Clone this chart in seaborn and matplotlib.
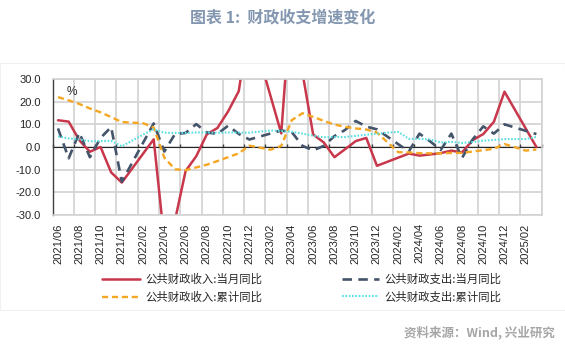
import numpy as np
import pandas as pd
import matplotlib
matplotlib.use("Agg")
import matplotlib.pyplot as plt
import seaborn as sns

sns.set_style("white")
plt.rcParams['font.family'] = ['Noto Sans CJK SC', 'DejaVu Sans']
plt.rcParams['axes.unicode_minus'] = False

nan = np.nan
months = list(pd.period_range('2021-06', '2025-03', freq='M').strftime('%Y/%m'))

rev_month = [11.8, 11.2, 3.0, -2.1, 0.0, -11.2, -15.7, nan, nan, 3.4,
             -41.3, -32.5, -10.6, -4.1, 5.6, 8.4, 15.7, 24.6, 55.0, nan,
             nan, 6.0, 70.1, 32.7, 5.5, 2.0, -4.5, -1.0, 2.6, 4.0,
             -8.3, nan, nan, -2.9, -3.8, -3.3, -2.7, -1.6, -2.4, 3.0,
             5.7, 11.1, 24.4, nan, nan, 0.0]
exp_month = [8.2, -5.0, 6.3, -4.5, 4.0, 8.8, -15.3, nan, nan, 10.4,
             -2.0, 5.7, 6.2, 10.1, 6.4, 5.8, 9.4, 5.8, 3.3, nan,
             nan, 7.3, 6.5, 0.5, -1.5, 0.5, 4.8, 7.5, 11.5, 9.0,
             7.8, nan, nan, -2.0, 5.9, 2.5, -1.3, 5.9, -4.9, 3.3,
             9.1, 5.9, 10.0, nan, nan, 5.7]
rev_cum = [22.0, 20.6, 19.0, 17.0, 15.3, 13.2, 11.0, nan, 10.5, 8.6,
           -4.7, -9.8, -10.2, -9.0, -7.8, -6.2, -4.5, -2.8, 0.6, nan,
           -1.2, 0.5, 11.9, 14.9, 13.3, 11.5, 9.9, 8.9, 8.2, 7.7,
           6.4, nan, -2.3, -2.4, -2.7, -2.8, -2.8, -2.6, -2.6, -2.0,
           -1.4, -0.8, 1.3, nan, -1.6, -1.1]
exp_cum = [4.7, 3.8, 3.3, 2.5, 2.6, 2.7, 0.3, nan, 5.5, 7.8,
           6.3, 6.2, 6.2, 6.4, 6.4, 6.3, 6.4, 6.4, 6.3, nan,
           7.3, 7.1, 6.7, 5.9, 5.0, 4.3, 4.4, 4.4, 4.9, 5.4,
           5.9, nan, 6.7, 3.6, 3.6, 3.3, 2.0, 2.3, 1.8, 2.2,
           2.8, 3.1, 3.5, nan, 3.5, 4.4]

labels = ['公共财政收入:当月同比', '公共财政支出:当月同比',
          '公共财政收入:累计同比', '公共财政支出:累计同比']
series = [rev_month, exp_month, rev_cum, exp_cum]
colors = ['#C8374B', '#44546A', '#F5A623', '#5ADFE2']
styles = ['-', (0, (3.6, 2.4)), (0, (2.6, 1.6)), (0, (0.8, 0.8))]
widths = [1.8, 1.9, 1.7, 1.5]

W, H = 565, 345
fig = plt.figure(figsize=(W / 100, H / 100), dpi=100)
L, R, T, B = 52.7, 541.7, 79, 215
ax = fig.add_axes([L / W, 1 - B / H, (R - L) / W, (B - T) / H])

x = np.arange(len(months))
handles = []
for vals, lab, c, ls, lw in zip(series, labels, colors, styles, widths):
    df = pd.DataFrame({'x': x, 'y': vals}).dropna()
    sns.lineplot(data=df, x='x', y='y', ax=ax, color=c, linestyle=ls,
                 linewidth=lw, sort=False, label=None)
    handles.append(ax.lines[-1])

ax.set_xlim(-0.5, len(months) - 0.5)
ax.set_ylim(-30, 30)
ax.set_xlabel('')
ax.set_ylabel('')

# gridlines
ax.set_xticks(np.arange(-0.5, len(months), 2), minor=True)
ax.set_xticks(x[::2])
ax.set_xticklabels(months[::2], rotation=90, fontsize=8,
                   family=['Liberation Sans', 'DejaVu Sans'])
ax.tick_params(axis='x', which='both', length=0, pad=6)
ax.set_yticks(np.arange(-30, 31, 10))
ax.set_yticklabels([f'{v:.1f}' for v in np.arange(-30, 31, 10)], fontsize=8,
                   family=['Liberation Sans', 'DejaVu Sans'])
ax.tick_params(axis='y', which='major', direction='out', length=3.5,
               width=1, color='#404040', pad=5)
ax.grid(which='minor', axis='x', color='#d2d2d2', lw=1.2)
ax.grid(which='major', axis='y', color='#d2d2d2', lw=1.2)
ax.grid(which='major', axis='x', visible=False)
ax.set_axisbelow(True)
for s in ['top', 'right', 'bottom']:
    ax.spines[s].set_color('#d2d2d2')
    ax.spines[s].set_linewidth(1.2)
ax.spines['left'].set_color('#404040')
ax.spines['left'].set_linewidth(1.0)

# zero axis with tick marks
sec = ax.secondary_xaxis(0.5)
sec.set_xticks(np.arange(-0.5, len(months), 2))
sec.set_xticklabels([])
sec.tick_params(direction='out', length=2.5, width=1, color='#404040')
sec.spines['bottom'].set_color('#7a7a7a')
sec.spines['bottom'].set_linewidth(1.8)
sec.set_zorder(1)

ax.text(0.028, 0.945, '%', transform=ax.transAxes, fontsize=8.5,
        va='top', ha='left', family=['Liberation Sans', 'DejaVu Sans'])

fig.text(0.5, 1 - 17.5 / H, '图表 1:  财政收支增速变化', ha='center', va='center',
         fontsize=11.5, fontweight='bold', color='#8497B0')
fig.text(555 / W, 1 - 332 / H, '资料来源：Wind, 兴业研究', ha='right', va='center',
         fontsize=9, fontweight='bold', color='#A6A6A6')

order = [0, 2, 1, 3]
fig.legend([handles[i] for i in order], [labels[i] for i in order],
           loc='center', bbox_to_anchor=(302 / W, 1 - 288 / H), ncol=2,
           frameon=False, fontsize=8.2, handlelength=3.3, handletextpad=0.45,
           columnspacing=7.0, labelspacing=0.55)

fig.add_artist(plt.Rectangle((0.0, 1 - 310 / H), 1.0, (310 - 63) / H,
                             transform=fig.transFigure, fill=False,
                             edgecolor='#f0f0f0', lw=0.8))

fig.savefig('out.png', dpi=100)
